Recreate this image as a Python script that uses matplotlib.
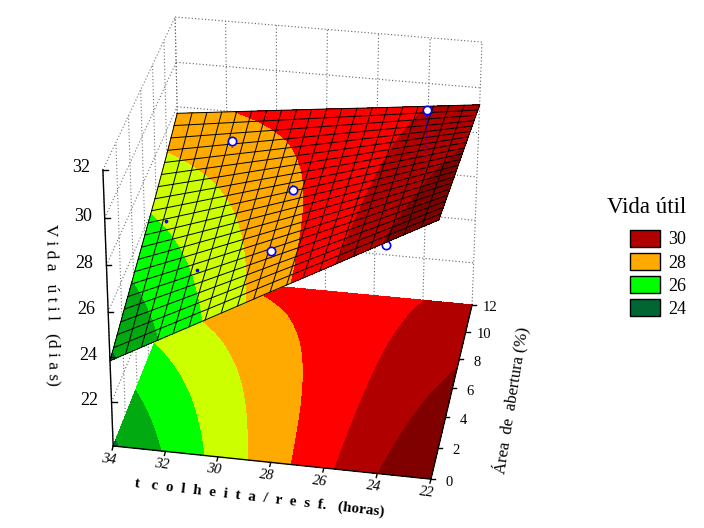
import numpy as np
import matplotlib
matplotlib.use("Agg")
import matplotlib.pyplot as plt
from matplotlib.patches import Patch

plt.rcParams['font.family'] = ['Liberation Serif', 'DejaVu Serif']

# axes values
t_vals = [34, 32, 30, 28, 26, 24, 22]
a_vals = [0, 2, 4, 6, 8, 10, 12]
z_ticks = [22, 24, 26, 28, 30, 32]

# fitted surface, rows = a_vals, columns = t_vals
vida = [
    [23.85, 25.08, 26.30, 27.53, 28.75, 29.98, 31.20],
    [24.46, 25.53, 26.60, 27.67, 28.73, 29.80, 30.87],
    [25.06, 25.97, 26.89, 27.80, 28.71, 29.63, 30.54],
    [25.66, 26.42, 27.18, 27.94, 28.70, 29.46, 30.22],
    [26.28, 26.88, 27.49, 28.09, 28.69, 29.30, 29.90],
    [26.95, 27.39, 27.82, 28.26, 28.70, 29.13, 29.57],
    [27.70, 27.96, 28.22, 28.48, 28.73, 28.99, 29.25],
]

# experimental points
pts_t = [31.3, 28.4, 28.4, 23.35, 33.3, 31.3]
pts_a = [9.6, 6.7, 2.3, 6.5, 6.6, 2.9]
pts_z = [28.05, 27.85, 27.8, 31.9, 26.0, 26.3]
pts_fit = [27.75, 28.05, 27.5, 29.9, 25.9, 26.2]
pts_size = [6, 6, 6, 6, 1.5, 1.5]
under_t = [23.85]
under_a = [0.0]
under_z = [29.97]

levels = [23, 24, 25, 26, 27, 28, 29, 30, 32]
colors = ['#006633', '#00AA10', '#00FF00', '#CCFF00', '#FFAA00', '#FF0000', '#B00000', '#800000']
legend_vals = ['30', '28', '26', '24']
legend_cols = ['#B00000', '#FFAA00', '#00FF00', '#006633']

# box corners (t, a, z) and where they are in the picture, gives the 3D scale
box_3d = [(34, 0, 20), (22, 0, 20), (22, 12, 20), (34, 12, 20), (34, 0, 32), (22, 12, 32), (34, 12, 32)]
box_px = [(113, 446), (431, 479), (472, 305), (181, 277), (103, 170), (482, 42), (175, 17)]


def norm(t, a, z):
    return (np.asarray(t, float) - 28) / 6, (np.asarray(a, float) - 6) / 6, (np.asarray(z, float) - 26) / 6


rows = []
rhs = []
for (t, a, z), (u, v) in zip(box_3d, box_px):
    x, y, w = norm(t, a, z)
    rows.append([x, y, w, 1, 0, 0, 0, 0, -u * x, -u * y, -u * w])
    rows.append([0, 0, 0, 0, x, y, w, 1, -v * x, -v * y, -v * w])
    rhs += [u, v]
P = np.linalg.lstsq(np.array(rows, float), np.array(rhs, float), rcond=None)[0]


def proj(t, a, z):
    x, y, w = norm(t, a, z)
    d = P[8] * x + P[9] * y + P[10] * w + 1
    return (P[0] * x + P[1] * y + P[2] * w + P[3]) / d, (P[4] * x + P[5] * y + P[6] * w + P[7]) / d


def surface(t, a):
    # lookup in the table
    col = [np.interp(-t, -np.array(t_vals), r) for r in vida]
    return np.interp(a, a_vals, col)


fig = plt.figure(figsize=(7.04, 5.28), dpi=100)
ax = fig.add_axes([0, 0, 1, 1])
ax.set_xlim(0, 704)
ax.set_ylim(528, 0)
ax.axis('off')

t_fine = np.linspace(34, 22, 241)
a_fine = np.linspace(0, 12, 241)
Z = np.array([[surface(float(t), float(a)) for t in t_fine] for a in a_fine])
T, A = np.meshgrid(t_fine, a_fine)


def dotted(t0, a0, z0, t1, a1, z1, col):
    xx, yy = proj([t0, t1], [a0, a1], [z0, z1])
    ax.plot(xx, yy, ls=(0, (1, 2)), color=col, lw=0.8, zorder=1)


# back walls
for z in z_ticks + [20]:
    dotted(34, 0, z, 34, 12, z, '#707070')
    dotted(34, 12, z, 22, 12, z, '#606060')
for a in a_vals:
    dotted(34, a, 20, 34, a, 32, '#707070')
for t in t_vals:
    dotted(t, 12, 20, t, 12, 32, '#606060')

# floor contours
fx, fy = proj(T, A, np.full_like(T, 20.0))
ax.contourf(fx, fy, Z, levels=levels, colors=colors, zorder=2)

# point under the surface
ux, uy = proj(under_t, under_a, under_z)
ax.plot(ux, uy, 'o', ms=6, mfc='white', mec='blue', mew=1.2, zorder=3)

# surface
sx, sy = proj(T, A, Z)
ax.contourf(sx, sy, Z, levels=levels, colors=colors, zorder=4)

# mesh
n_mesh = 21
for tm in np.linspace(34, 22, n_mesh):
    zz = [surface(float(tm), a) for a in a_vals]
    mx, my = proj(np.full(7, tm), a_vals, zz)
    ax.plot(mx, my, color='black', lw=0.7, zorder=5)
for am in np.linspace(0, 12, n_mesh):
    zz = [surface(t, float(am)) for t in t_vals]
    mx, my = proj(t_vals, np.full(7, am), zz)
    ax.plot(mx, my, color='black', lw=0.7, zorder=5)

# points above the surface
for t, a, z, f, s in zip(pts_t, pts_a, pts_z, pts_fit, pts_size):
    xx, yy = proj([t, t], [a, a], [f, z])
    ax.plot(xx, yy, ls=(0, (1, 2)), color='blue', lw=0.8, zorder=6)
    ax.plot(xx[1], yy[1], 'o', ms=s, mfc='white', mec='blue', mew=1.2, zorder=7)

# axes lines and ticks
xx, yy = proj([34, 34], [0, 0], [20, 32])
ax.plot(xx, yy, color='black', lw=1, zorder=8)
xx, yy = proj([34, 22, 22], [0, 0, 12], [20, 20, 20])
ax.plot(xx, yy, color='black', lw=1, zorder=8)

for z in z_ticks:
    xx, yy = proj(34, 0, z)
    ax.plot([xx, xx + 5], [yy, yy], color='black', lw=1, zorder=8)
    ax.text(xx - 22, yy - 2, str(z), fontsize=13, ha='center', va='center')
for t in t_vals:
    xx, yy = proj(t, 0, 20)
    ax.plot([xx, xx - 1], [yy, yy + 4], color='black', lw=1, zorder=8)
    ax.text(xx - 4, yy + 13, str(t), fontsize=10.5, rotation=-7, ha='center', va='center', style='italic')
for a in a_vals:
    xx, yy = proj(22, a, 20)
    ax.plot([xx, xx + 4], [yy, yy], color='black', lw=1, zorder=8)
    ax.text(xx + 18, yy + 3, str(a), fontsize=10.5, ha='center', va='center')

ax.text(260, 498, 't   c  o  l  h  e  i  t  a  /  r  e  s  f.   (horas)', fontsize=11, rotation=-6.6,
        rotation_mode='anchor', ha='center', va='center', fontweight='bold')
ax.text(512, 400, 'Área  de  abertura (%)', fontsize=12, rotation=81,
        rotation_mode='anchor', ha='center', va='center')
ax.text(52, 305, 'V i d a   ú t i l   (d i a s)', fontsize=12.5, rotation=-89,
        rotation_mode='anchor', ha='center', va='center')

handles = [Patch(facecolor=c, edgecolor='black', linewidth=1) for c in legend_cols]
leg = ax.legend(handles, legend_vals, title='Vida útil', fontsize=13, title_fontsize=16.5,
                frameon=False, loc='upper left', bbox_to_anchor=(607 / 704, 1 - 197 / 528),
                bbox_transform=ax.transAxes, handlelength=1.66, handleheight=1.05, labelspacing=0.26,
                handletextpad=0.45, alignment='right', borderpad=0, borderaxespad=0)
leg._legend_box.sep = 8.5

fig.savefig('out.png', dpi=100)
